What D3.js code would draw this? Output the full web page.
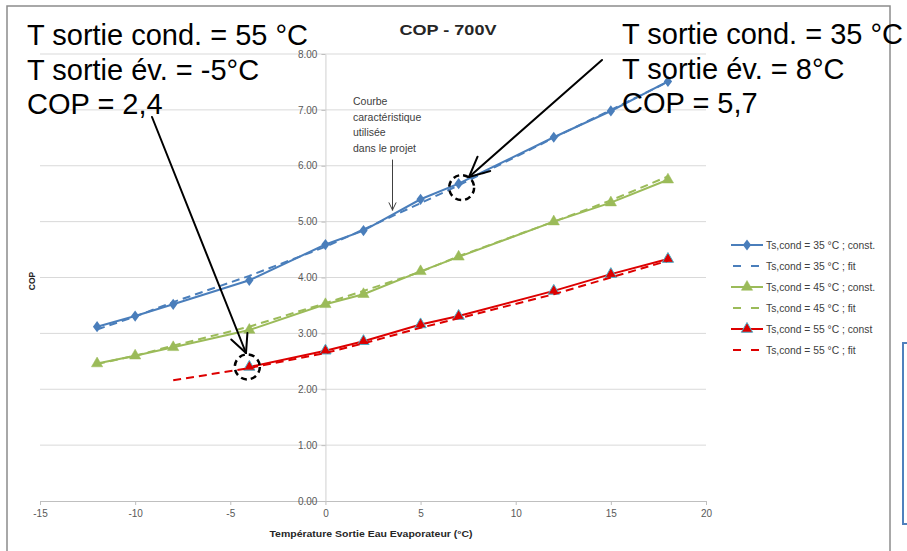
<!DOCTYPE html>
<html>
<head>
<meta charset="utf-8">
<script src="https://cdn.jsdelivr.net/npm/d3@7"></script>
<style>
  body { margin: 0; background: #fff; }
  svg { display: block; font-family: "Liberation Sans", Arial, sans-serif; }
</style>
</head>
<body>
<svg id="chart" width="907" height="551"></svg>
<script>
// data
var temps = [-12, -10, -8, -4, 0, 2, 5, 7, 12, 15, 18];
var cop35 = [3.12, 3.31, 3.52, 3.95, 4.59, 4.84, 5.40, 5.68, 6.51, 6.98, 7.51];
var fit35 = [3.07, 3.30, 3.56, 4.03, 4.55, 4.86, 5.33, 5.65, 6.50, 7.00, 7.50];
var cop45 = [2.46, 2.60, 2.75, 3.06, 3.52, 3.70, 4.11, 4.37, 5.00, 5.34, 5.75];
var fit45 = [2.45, 2.60, 2.78, 3.12, 3.54, 3.76, 4.10, 4.38, 5.00, 5.38, 5.81];
var temps55 = [-4, 0, 2, 5, 7, 12, 15, 18];
var cop55 = [2.40, 2.69, 2.86, 3.16, 3.31, 3.76, 4.06, 4.33];
var tempsFit55 = [-8, -4, 0, 2, 5, 7, 12, 15, 18];
var fit55 = [2.16, 2.38, 2.65, 2.82, 3.10, 3.27, 3.70, 4.00, 4.30];

var xTicks = [-15, -10, -5, 0, 5, 10, 15, 20];
var yTicks = [0, 1, 2, 3, 4, 5, 6, 7, 8];

var legendLabels = [
  "Ts,cond = 35 °C ; const.",
  "Ts,cond = 35 °C ; fit",
  "Ts,cond = 45 °C ; const.",
  "Ts,cond = 45 °C ; fit",
  "Ts,cond = 55 °C ; const",
  "Ts,cond = 55 °C ; fit"
];

var noteLeft = ["T sortie cond. = 55 °C", "T sortie év. = -5°C", "COP = 2,4"];
var noteRight = ["T sortie cond. = 35 °C", "T sortie év. = 8°C", "COP = 5,7"];
var noteCurve = ["Courbe", "caractéristique", "utilisée", "dans le projet"];

var blue = "#4a7ebb", green = "#9bbb59", red = "#dd0000", redEdge = "#4bacc6";

var zip = (xs, ys) => xs.map((t, i) => ({t: t, v: ys[i]}));

var series = [
  {data: zip(temps, cop35), color: blue, dash: null, marker: "diamond"},
  {data: zip(temps, fit35), color: blue, dash: "8,5", marker: null},
  {data: zip(temps, cop45), color: green, dash: null, marker: "triangle"},
  {data: zip(temps, fit45), color: green, dash: "8,5", marker: null},
  {data: zip(temps55, cop55), color: red, dash: null, marker: "triangle", edge: redEdge},
  {data: zip(tempsFit55, fit55), color: red, dash: "8,5", marker: null}
];

var svg = d3.select("#chart");

var x = d3.scaleLinear().domain([-15, 20]).range([40, 706]);
var y = d3.scaleLinear().domain([0, 8]).range([501, 54]);

// outer frame + blue box at right
svg.append("rect")
  .attr("x", 7).attr("y", 6).attr("width", 883).attr("height", 560)
  .attr("fill", "none").attr("stroke", "#8c8c8c").attr("stroke-width", 1.5);
svg.append("rect")
  .attr("x", 903).attr("y", 343).attr("width", 20).attr("height", 181)
  .attr("fill", "none").attr("stroke", "#4f81bd").attr("stroke-width", 2);

// gridlines
svg.append("g")
  .selectAll("line")
  .data(yTicks.slice(1))
  .join("line")
    .attr("x1", x(-15)).attr("x2", x(20))
    .attr("y1", d => y(d)).attr("y2", d => y(d))
    .attr("stroke", "#d9d9d9").attr("stroke-width", 1);

// x axis
svg.append("g")
  .attr("transform", `translate(0,${y(0)})`)
  .call(d3.axisBottom(x).tickValues(xTicks).tickSize(4).tickSizeOuter(0).tickFormat(d => String(d)))
  .call(g => g.select(".domain").attr("stroke", "#bfbfbf"))
  .call(g => g.selectAll(".tick line").attr("stroke", "#bfbfbf"))
  .call(g => g.selectAll(".tick text")
    .attr("fill", "#595959").attr("font-size", 10).attr("dy", "0.9em")
    .attr("font-family", "Liberation Sans, Arial, sans-serif"));

// y axis at x = 0
svg.append("g")
  .attr("transform", `translate(${x(0)},0)`)
  .call(d3.axisLeft(y).tickValues(yTicks).tickSize(4).tickSizeOuter(0).tickFormat(d3.format(".2f")))
  .call(g => g.select(".domain").attr("stroke", "#d0d0d0"))
  .call(g => g.selectAll(".tick line").attr("stroke", "#bfbfbf"))
  .call(g => g.selectAll(".tick text")
    .attr("fill", "#595959").attr("font-size", 10).attr("x", -8)
    .attr("font-family", "Liberation Sans, Arial, sans-serif"));

// titles
svg.append("text")
  .attr("x", 448).attr("y", 35).attr("text-anchor", "middle")
  .attr("font-size", 14).attr("font-weight", "bold").attr("fill", "#262626")
  .attr("textLength", 97).attr("lengthAdjust", "spacingAndGlyphs")
  .text("COP - 700V");

svg.append("text")
  .attr("x", 371).attr("y", 537).attr("text-anchor", "middle")
  .attr("font-size", 9.5).attr("font-weight", "bold").attr("fill", "#262626")
  .attr("textLength", 203).attr("lengthAdjust", "spacingAndGlyphs")
  .text("Température Sortie Eau Evaporateur (°C)");

svg.append("text")
  .attr("transform", "translate(35,281) rotate(-90)")
  .attr("text-anchor", "middle")
  .attr("font-size", 8.5).attr("font-weight", "bold").attr("fill", "#262626")
  .text("COP");

// lines + markers
var line = d3.line().x(d => x(d.t)).y(d => y(d.v));

function marker(sel, type, color, edge) {
  if (type == "diamond") {
    sel.append("path")
      .attr("d", d3.symbol(d3.symbolDiamond, 45)())
      .attr("transform", "scale(1.15,0.9)")
      .attr("fill", color);
  } else {
    sel.append("path")
      .attr("d", d3.symbol(d3.symbolTriangle, 55)())
      .attr("fill", color)
      .attr("stroke", edge || color).attr("stroke-width", edge ? 1 : 0.5);
  }
}

series.forEach(function(s) {
  svg.append("path")
    .datum(s.data)
    .attr("d", line)
    .attr("fill", "none")
    .attr("stroke", s.color)
    .attr("stroke-width", 2)
    .attr("stroke-dasharray", s.dash);

  if (s.marker) {
    svg.append("g")
      .selectAll("g")
      .data(s.data)
      .join("g")
        .attr("transform", d => `translate(${x(d.t)},${y(d.v)})`)
        .each(function() { marker(d3.select(this), s.marker, s.color, s.edge); });
  }
});

// legend
var legend = svg.append("g").attr("transform", "translate(731,245)");
var item = legend.selectAll("g")
  .data(series)
  .join("g")
    .attr("transform", (d, i) => `translate(0,${i * 21})`);

item.append("line")
  .attr("x1", d => d.dash ? 2 : 0).attr("x2", 32)
  .attr("stroke", d => d.color).attr("stroke-width", 2)
  .attr("stroke-dasharray", d => d.dash ? "8,10" : null);

item.filter(d => d.marker)
  .append("g")
    .attr("transform", "translate(16,0)")
    .each(function(d) { marker(d3.select(this), d.marker, d.color, d.edge); });

item.append("text")
  .attr("x", 35).attr("dy", "0.35em")
  .attr("font-size", 10.3).attr("fill", "#404040")
  .text((d, i) => legendLabels[i]);

// annotations
function textBlock(lines, x0, y0, step, size, color) {
  svg.append("g")
    .selectAll("text")
    .data(lines)
    .join("text")
      .attr("x", x0).attr("y", (d, i) => y0 + i * step)
      .attr("font-size", size).attr("fill", color)
      .text(d => d);
}

textBlock(noteLeft, 27, 45, 34.5, 29, "#000");
textBlock(noteRight, 622, 44, 34.5, 29, "#000");
textBlock(noteCurve, 353, 105, 15.7, 10.5, "#404040");

function arrow(x1, y1, x2, y2, wing, width, color) {
  var a = Math.atan2(y2 - y1, x2 - x1);
  var g = svg.append("g")
    .attr("stroke", color).attr("stroke-width", width)
    .attr("fill", "none").attr("stroke-linecap", "round");
  g.append("line").attr("x1", x1).attr("y1", y1).attr("x2", x2).attr("y2", y2);
  [-0.45, 0.45].forEach(function(da) {
    g.append("line")
      .attr("x1", x2).attr("y1", y2)
      .attr("x2", x2 - wing * Math.cos(a + da))
      .attr("y2", y2 - wing * Math.sin(a + da));
  });
}

// circled points
var circled = [{t: -4, v: 2.40, dx: -2, dy: 0}, {t: 7, v: 5.68, dx: 3, dy: 4}];
svg.append("g")
  .selectAll("circle")
  .data(circled)
  .join("circle")
    .attr("cx", d => x(d.t) + d.dx)
    .attr("cy", d => y(d.v) + d.dy)
    .attr("r", 12.5)
    .attr("fill", "none")
    .attr("stroke", "#000")
    .attr("stroke-width", 2.5)
    .attr("stroke-dasharray", "6,4");

arrow(152, 117, 246, 353, 20, 2, "#000");
arrow(602, 60, 469, 177, 22, 2, "#000");
arrow(392.5, 160, 392.5, 210, 8, 1, "#404040");
</script>
</body>
</html>
